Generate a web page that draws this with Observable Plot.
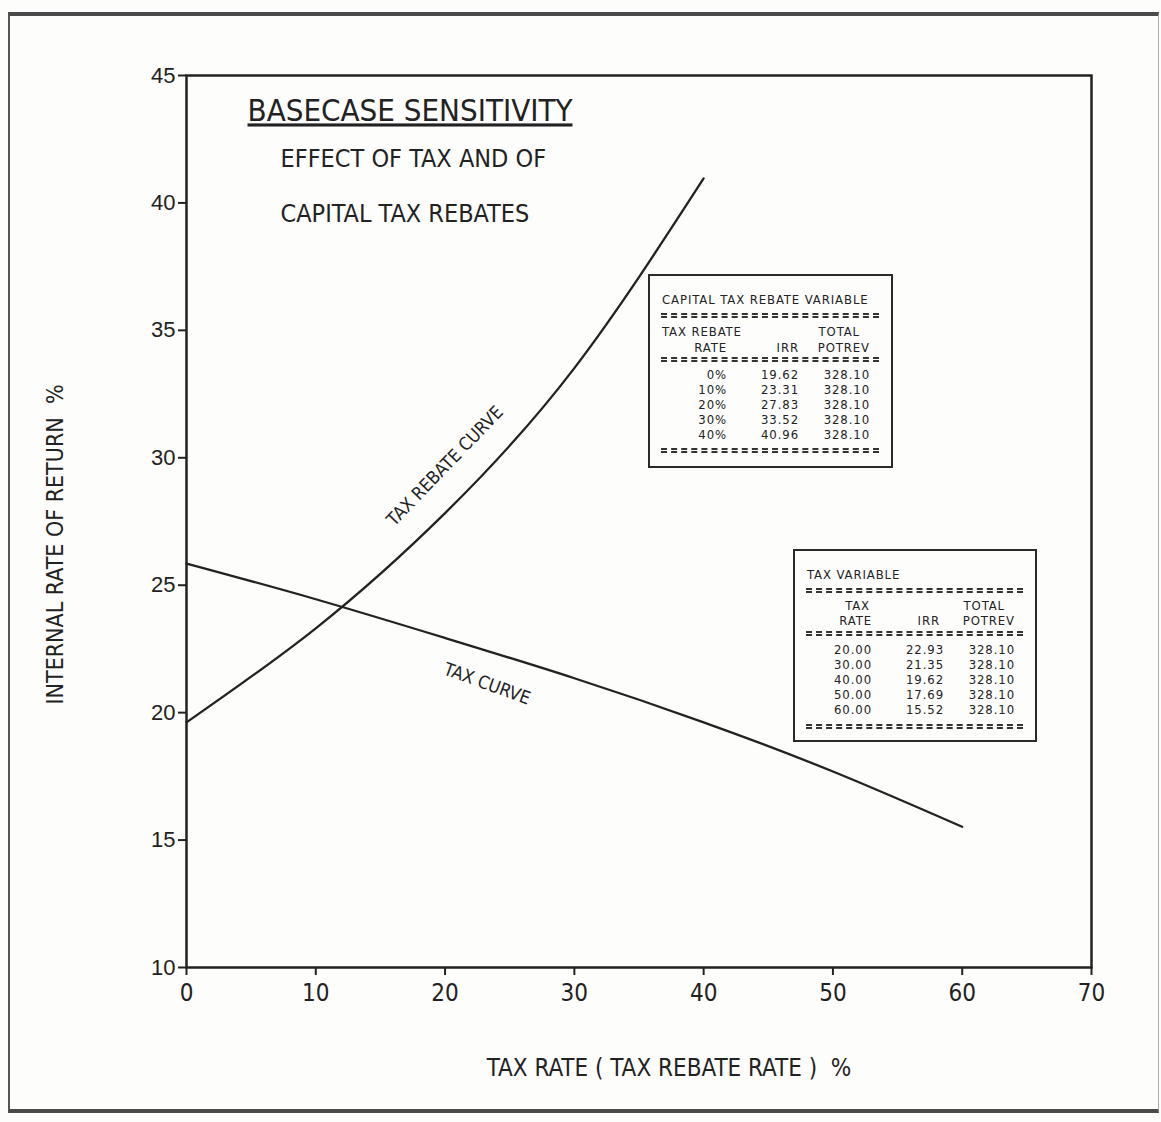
<!DOCTYPE html>
<html>
<head>
<meta charset="utf-8">
<script src="https://cdn.jsdelivr.net/npm/d3@7"></script>
<script src="https://cdn.jsdelivr.net/npm/@observablehq/plot@0.6"></script>
<style>
  html, body { margin: 0; padding: 0; background: #fff; }
  #page { position: relative; width: 1161px; height: 1122px; background: #fdfdfc; overflow: hidden; }
  #sheet { position: absolute; left: 8px; top: 12px; width: 1151px; height: 1101px;
           border-top: 4px solid #4a4a4a; border-left: 2px solid #555; border-bottom: 4px solid #4a4a4a;
           border-right: 1px solid #aaa; box-sizing: border-box; }
  #chart { position: absolute; left: 0; top: 0; }
  .tbl { position: absolute; border: 2px solid #2a2a2a; background: #fdfdfc; box-sizing: border-box;
         font-family: "Liberation Sans Narrow", "DejaVu Sans Condensed", sans-serif; font-size: 13px;
         letter-spacing: 0.9px; color: #222; }
  .tbl .t { position: absolute; white-space: nowrap; line-height: 1; transform: translateY(-50%); }
  .tbl .sep { position: absolute; left: 11px; right: 12px; height: 1px;
              border-top: 2px dashed #333; border-bottom: 2px dashed #333; }
</style>
</head>
<body>
<div id="page">
  <div id="sheet"></div>
  <div id="chart"></div>
</div>
<script>
// Capital tax rebate sensitivity: rebate rate (%) vs internal rate of return (%)
const rebateRates = [0, 10, 20, 30, 40];
const rebateIrr = [19.62, 23.31, 27.83, 33.52, 40.96];
const rebatePotrev = [328.10, 328.10, 328.10, 328.10, 328.10];

// Tax sensitivity: tax rate (%) vs internal rate of return (%)
const taxRates = [0, 10, 20, 30, 40, 50, 60];
const taxIrr = [25.85, 24.45, 22.93, 21.35, 19.62, 17.69, 15.52];
const taxPotrev = [328.10, 328.10, 328.10, 328.10, 328.10, 328.10, 328.10];

// Axis ticks
const xTicks = [0, 10, 20, 30, 40, 50, 60, 70];
const yTicks = [10, 15, 20, 25, 30, 35, 40, 45];

const titleLines = ["BASECASE SENSITIVITY", "EFFECT OF TAX AND OF", "CAPITAL TAX REBATES"];
const xLabel = "TAX RATE ( TAX REBATE RATE )  %";
const yLabel = "INTERNAL RATE OF RETURN  %";

const NARROW = '"Liberation Sans Narrow", "DejaVu Sans Condensed", sans-serif';
const SANS = '"Liberation Sans", "DejaVu Sans", sans-serif';
const INK = "#222";

const rebateData = rebateRates.map((r, i) => ({rate: r, irr: rebateIrr[i]}));
const taxData = taxRates.map((r, i) => ({rate: r, irr: taxIrr[i]}));

const chart = Plot.plot({
  width: 1161,
  height: 1122,
  marginLeft: 186,
  marginRight: 70,
  marginTop: 75,
  marginBottom: 155,
  x: {domain: [0, 70]},
  y: {domain: [10, 45]},
  style: {background: "transparent", color: INK, fontFamily: SANS},
  marks: [
    Plot.axisX({ticks: xTicks, tickSize: 8, tickPadding: 8, fontSize: 24, fontFamily: NARROW,
                strokeWidth: 2, label: null}),
    Plot.axisY({ticks: yTicks, tickSize: 8, tickPadding: 3, fontSize: 22, strokeWidth: 2, label: null}),
    Plot.frame({stroke: INK, strokeWidth: 2.5}),
    Plot.line(rebateData, {x: "rate", y: "irr", curve: "natural", stroke: INK, strokeWidth: 2.3}),
    Plot.line(taxData, {x: "rate", y: "irr", curve: "natural", stroke: INK, strokeWidth: 2.3}),
    // curve annotations, anchored to the 20% points of each curve
    Plot.text([rebateData[2]], {x: "rate", y: "irr", text: () => "TAX REBATE CURVE", rotate: -46,
      dx: 0, dy: -47, fontSize: 18, fontFamily: NARROW, fill: INK}),
    Plot.text([taxData[2]], {x: "rate", y: "irr", text: () => "TAX CURVE", rotate: 20,
      dx: 42, dy: 46, fontSize: 18, fontFamily: NARROW, fill: INK}),
    // heading block in the upper-left of the frame
    Plot.text([titleLines[0]], {frameAnchor: "top-left", text: d => d, textAnchor: "start", lineAnchor: "middle",
      dx: 61, dy: 36, fontSize: 31, fontFamily: NARROW, fill: INK, className: "main-title"}),
    Plot.text([titleLines[1]], {frameAnchor: "top-left", text: d => d, textAnchor: "start", lineAnchor: "middle",
      dx: 94, dy: 83, fontSize: 25, fontFamily: NARROW, fill: INK}),
    Plot.text([titleLines[2]], {frameAnchor: "top-left", text: d => d, textAnchor: "start", lineAnchor: "middle",
      dx: 94, dy: 138, fontSize: 25, fontFamily: NARROW, fill: INK}),
    // axis titles
    Plot.text([xLabel], {frameAnchor: "bottom", text: d => d, textAnchor: "middle", lineAnchor: "middle",
      dx: 30, dy: 101, fontSize: 24, fontFamily: NARROW, fill: INK}),
    Plot.text([yLabel], {frameAnchor: "left", text: d => d, textAnchor: "middle", lineAnchor: "middle",
      rotate: -90, dx: -131, dy: 23, fontSize: 23, fontFamily: NARROW, fill: INK})
  ]
});

d3.select(chart).select(".main-title text")
  .style("text-decoration", "underline")
  .style("text-decoration-thickness", "3px")
  .style("text-underline-offset", "4px");

document.getElementById("chart").appendChild(chart);

// Inset tables listing the values behind each curve
function buildTable(spec) {
  const box = document.createElement("div");
  box.className = "tbl";
  Object.assign(box.style, {left: spec.left + "px", top: spec.top + "px",
    width: spec.width + "px", height: spec.height + "px"});
  const put = (text, x, y, align) => {
    const el = document.createElement("div");
    el.className = "t";
    el.textContent = text;
    el.style.top = y + "px";
    if (align === "left") el.style.left = x + "px";
    else { el.style.left = (x - 120) + "px"; el.style.width = "120px"; el.style.textAlign = "right"; }
    box.appendChild(el);
  };
  put(spec.title, 12, spec.titleY, "left");
  spec.seps.forEach(y => {
    const s = document.createElement("div");
    s.className = "sep";
    s.style.top = (y - 2) + "px";
    box.appendChild(s);
  });
  spec.header.forEach(([text, x, y, align]) => put(text, x, y, align));
  spec.rows.forEach((row, i) => {
    row.forEach((text, j) => put(text, spec.cols[j], spec.rowY0 + i * spec.rowStep, "right"));
  });
  document.getElementById("page").appendChild(box);
}

buildTable({
  left: 648, top: 274, width: 245, height: 194,
  title: "CAPITAL TAX REBATE VARIABLE", titleY: 23,
  seps: [39, 83, 174],
  header: [["TAX REBATE", 12, 55, "left"], ["TOTAL", 210, 55], ["RATE", 77, 71], ["IRR", 149, 71], ["POTREV", 220, 71]],
  cols: [77, 149, 220], rowY0: 98, rowStep: 15,
  rows: rebateRates.map((r, i) => [r + "%", rebateIrr[i].toFixed(2), rebatePotrev[i].toFixed(2)])
});

buildTable({
  left: 793, top: 549, width: 244, height: 193,
  title: "TAX VARIABLE", titleY: 23,
  seps: [39, 82, 175],
  header: [["TAX", 75, 54], ["TOTAL", 210, 54], ["RATE", 77, 69], ["IRR", 145, 69], ["POTREV", 220, 69]],
  cols: [77, 149, 220], rowY0: 98, rowStep: 15,
  rows: taxRates.map((r, i) => ({r, i})).filter(d => d.r >= 20)
    .map(({r, i}) => [r.toFixed(2), taxIrr[i].toFixed(2), taxPotrev[i].toFixed(2)])
});
</script>
</body>
</html>
